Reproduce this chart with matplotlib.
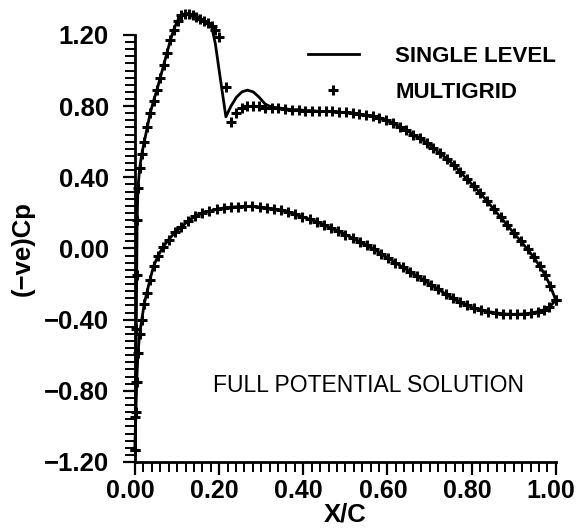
import matplotlib
matplotlib.use("Agg")
import matplotlib.pyplot as plt
import matplotlib.transforms as mtransforms
from matplotlib.ticker import MultipleLocator

plt.rcParams['font.family'] = ['Liberation Sans', 'DejaVu Sans']

# upper surface stations and -Cp (multigrid / single level)
x_upper = [0.000, 0.001, 0.002, 0.003, 0.004, 0.005, 0.007, 0.011, 0.016, 0.022,
           0.029, 0.036, 0.044, 0.052, 0.060, 0.068, 0.076, 0.084, 0.092, 0.101,
           0.110, 0.119, 0.128, 0.137, 0.146, 0.155, 0.164, 0.173, 0.182, 0.191,
           0.200, 0.216, 0.228, 0.241, 0.254, 0.267, 0.281, 0.295, 0.310, 0.325,
           0.341, 0.357, 0.373, 0.389, 0.405, 0.421, 0.437, 0.453, 0.469, 0.485,
           0.501, 0.517, 0.533, 0.549, 0.565, 0.581, 0.597, 0.613, 0.629, 0.645,
           0.661, 0.677, 0.693, 0.709, 0.725, 0.741, 0.757, 0.773, 0.789, 0.805,
           0.821, 0.837, 0.853, 0.869, 0.885, 0.901, 0.917, 0.933, 0.948, 0.962,
           0.975, 0.987, 1.000]
cp_upper_mg = [-1.13, -0.95, -0.75, -0.45, -0.15, 0.16, 0.34, 0.45, 0.53, 0.60,
               0.68, 0.76, 0.83, 0.89, 0.96, 1.03, 1.10, 1.17, 1.23, 1.28,
               1.31, 1.32, 1.32, 1.31, 1.30, 1.29, 1.28, 1.27, 1.25, 1.23,
               1.19, 0.91, 0.71, 0.76, 0.79, 0.80, 0.80, 0.80, 0.79, 0.79,
               0.79, 0.785, 0.78, 0.78, 0.775, 0.775, 0.77, 0.77, 0.77, 0.765,
               0.765, 0.76, 0.755, 0.75, 0.745, 0.735, 0.72, 0.705, 0.685, 0.665,
               0.64, 0.62, 0.595, 0.565, 0.535, 0.505, 0.47, 0.43, 0.39, 0.35,
               0.31, 0.265, 0.22, 0.175, 0.13, 0.085, 0.04, -0.005, -0.05, -0.10,
               -0.15, -0.21, -0.29]
cp_upper_sl = [-1.13, -0.95, -0.75, -0.45, -0.15, 0.16, 0.34, 0.45, 0.53, 0.60,
               0.68, 0.76, 0.83, 0.89, 0.96, 1.03, 1.10, 1.17, 1.23, 1.28,
               1.31, 1.32, 1.32, 1.31, 1.30, 1.29, 1.28, 1.27, 1.25, 1.15,
               1.00, 0.74, 0.80, 0.85, 0.88, 0.89, 0.88, 0.85, 0.81, 0.795,
               0.79, 0.785, 0.78, 0.78, 0.775, 0.775, 0.77, 0.77, 0.77, 0.765,
               0.765, 0.76, 0.755, 0.75, 0.745, 0.735, 0.72, 0.705, 0.685, 0.665,
               0.64, 0.62, 0.595, 0.565, 0.535, 0.505, 0.47, 0.43, 0.39, 0.35,
               0.31, 0.265, 0.22, 0.175, 0.13, 0.085, 0.04, -0.005, -0.05, -0.10,
               -0.15, -0.21, -0.29]

# lower surface stations and -Cp (both solutions agree here)
x_lower = [0.000, 0.002, 0.004, 0.007, 0.011, 0.016, 0.022, 0.028, 0.035, 0.044,
           0.055, 0.067, 0.080, 0.095, 0.110, 0.126, 0.143, 0.160, 0.177, 0.194,
           0.211, 0.228, 0.245, 0.262, 0.279, 0.296, 0.313, 0.330, 0.347, 0.364,
           0.381, 0.398, 0.415, 0.432, 0.449, 0.466, 0.483, 0.500, 0.517, 0.534,
           0.551, 0.568, 0.585, 0.602, 0.619, 0.636, 0.653, 0.670, 0.687, 0.704,
           0.721, 0.738, 0.755, 0.772, 0.789, 0.806, 0.823, 0.840, 0.857, 0.874,
           0.891, 0.908, 0.925, 0.942, 0.958, 0.972, 0.985, 1.000]
cp_lower = [-1.13, -0.92, -0.75, -0.59, -0.48, -0.40, -0.31, -0.25, -0.18, -0.10,
            -0.04, 0.01, 0.05, 0.09, 0.12, 0.155, 0.18, 0.20, 0.21, 0.22,
            0.228, 0.232, 0.235, 0.236, 0.236, 0.233, 0.228, 0.222, 0.215, 0.205,
            0.192, 0.178, 0.164, 0.15, 0.133, 0.115, 0.097, 0.078, 0.058, 0.038,
            0.017, -0.005, -0.03, -0.055, -0.08, -0.105, -0.13, -0.155, -0.18, -0.205,
            -0.23, -0.255, -0.28, -0.30, -0.32, -0.335, -0.345, -0.355, -0.362, -0.367,
            -0.37, -0.37, -0.368, -0.363, -0.355, -0.345, -0.33, -0.29]

x_ticks = [0.0, 0.2, 0.4, 0.6, 0.8, 1.0]
x_labels = ['0.00', '0.20', '0.40', '0.60', '0.80', '1.00']
y_ticks = [-1.2, -0.8, -0.4, 0.0, 0.4, 0.8, 1.2]
y_labels = ['\u22121.20', '\u22120.80', '\u22120.40', '0.00', '0.40', '0.80', '1.20']

fig = plt.figure(figsize=(5.78, 5.29), dpi=100)
ax = fig.add_axes([0.2336, 0.1267, 0.7279, 0.8072])

# single level: solid line
sl, = ax.plot(x_upper, cp_upper_sl, color='black', lw=2.0, clip_on=False,
              label='SINGLE LEVEL')
ax.plot(x_lower, cp_lower, color='black', lw=2.0, clip_on=False)

# multigrid: plus markers
mg, = ax.plot(x_upper, cp_upper_mg, ls='none', marker='+', ms=7.5, mew=2.2,
              color='black', clip_on=False, label='MULTIGRID')
ax.plot(x_lower, cp_lower, ls='none', marker='+', ms=7.5, mew=2.2,
        color='black', clip_on=False)

ax.set_xlim(0, 1)
ax.set_ylim(-1.2, 1.2)
ax.set_xticks(x_ticks)
ax.set_xticklabels(x_labels, fontsize=18, fontweight='bold')
ax.set_yticks(y_ticks)
ax.set_yticklabels(y_labels, fontsize=18.5, fontweight='bold')
ax.xaxis.set_minor_locator(MultipleLocator(0.02))
ax.yaxis.set_minor_locator(MultipleLocator(0.04))
ax.tick_params(which='major', direction='out', length=9, width=1.6)
ax.tick_params(which='minor', direction='out', length=7, width=1.4)
ax.tick_params(axis='y', which='major', pad=10)
ax.tick_params(axis='x', which='major', pad=3)

# x tick labels sit a little left of their ticks
shift = mtransforms.ScaledTranslation(-0.045, 0, fig.dpi_scale_trans)
for lbl in ax.get_xticklabels():
    lbl.set_transform(lbl.get_transform() + shift)

for side in ['top', 'right']:
    ax.spines[side].set_visible(False)
for side in ['left', 'bottom']:
    ax.spines[side].set_linewidth(2)

ax.set_xlabel('X/C', fontsize=18.5, fontweight='bold', labelpad=0)
ax.set_ylabel('(\u2212ve)Cp', fontsize=18.5, fontweight='bold', labelpad=6)

ax.legend(handles=[sl, mg], loc='upper left', bbox_to_anchor=(0.41, 0.975),
          frameon=False, handlelength=2.3, handletextpad=1.65,
          labelspacing=0.68, borderpad=0, borderaxespad=0, numpoints=1,
          prop={'weight': 'bold', 'size': 16})

ax.text(0.185, -0.77, 'FULL POTENTIAL SOLUTION', fontsize=16.5,
        ha='left', va='center')

fig.savefig('out.png', dpi=100)
